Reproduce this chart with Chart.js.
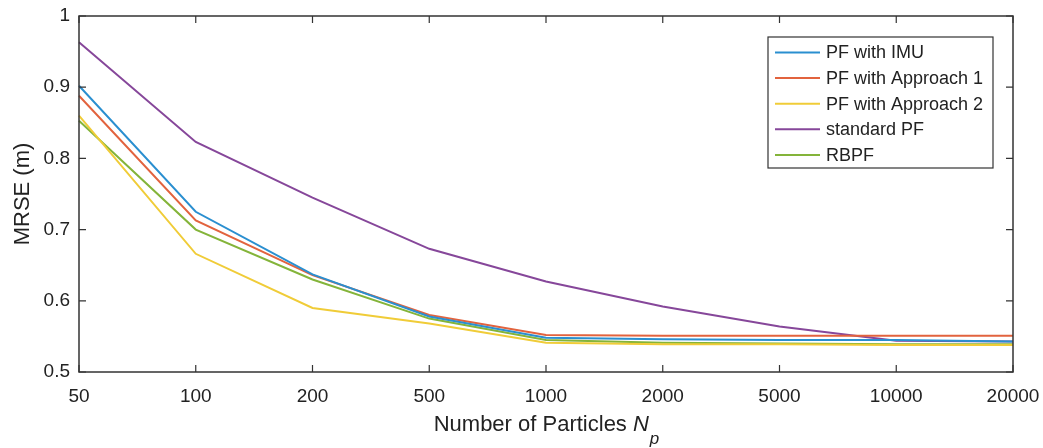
<!DOCTYPE html>
<html>
<head>
<meta charset="utf-8">
<script src="https://cdn.jsdelivr.net/npm/chart.js@4"></script>
<style>
  body { margin: 0; background: #fff; }
  #wrap { width: 1043px; height: 448px; }
</style>
</head>
<body>
<div id="wrap"><canvas id="mrse-chart"></canvas></div>
<script>
// number of particles (log-ish categories on the x axis)
var particles = ['50', '100', '200', '500', '1000', '2000', '5000', '10000', '20000'];

var pfImu       = [0.902, 0.725, 0.637, 0.578, 0.548, 0.546, 0.545, 0.545, 0.543];
var pfApproach1 = [0.888, 0.713, 0.636, 0.580, 0.552, 0.551, 0.551, 0.551, 0.551];
var pfApproach2 = [0.860, 0.666, 0.590, 0.568, 0.541, 0.539, 0.539, 0.538, 0.538];
var standardPf  = [0.963, 0.823, 0.745, 0.673, 0.627, 0.592, 0.564, 0.544, 0.543];
var rbpf        = [0.853, 0.700, 0.630, 0.575, 0.545, 0.541, 0.540, 0.539, 0.539];

var yTicks = [0.5, 0.6, 0.7, 0.8, 0.9, 1];

var FONT = '"Liberation Sans", Arial, sans-serif';
var AXIS_COLOR = '#333333';

function ds(label, data, color) {
    return {
        label: label,
        data: data,
        borderColor: color,
        backgroundColor: color,
        borderWidth: 2,
        pointRadius: 0,
        tension: 0,
        fill: false
    };
}

// box, inward ticks, x title with subscript, legend
var matlabLook = {
    id: 'matlabLook',
    afterDraw: function (chart) {
        var c = chart.ctx;
        var a = chart.chartArea;
        var xs = chart.scales.x, ys = chart.scales.y;
        c.save();
        c.strokeStyle = AXIS_COLOR;
        c.lineWidth = 1.5;
        c.strokeRect(a.left, a.top, a.right - a.left, a.bottom - a.top);
        c.lineWidth = 1.2;
        c.beginPath();
        for (var i = 0; i < particles.length; i++) {
            var px = xs.getPixelForValue(i);
            c.moveTo(px, a.bottom); c.lineTo(px, a.bottom - 7);
            c.moveTo(px, a.top); c.lineTo(px, a.top + 7);
        }
        yTicks.forEach(function (v) {
            var py = ys.getPixelForValue(v);
            c.moveTo(a.left, py); c.lineTo(a.left + 7, py);
            c.moveTo(a.right, py); c.lineTo(a.right - 7, py);
        });
        c.stroke();

        // x axis title: Number of Particles N_p
        c.fillStyle = '#222';
        c.textBaseline = 'middle';
        var main = 'Number of Particles ';
        c.font = '22px ' + FONT;
        var w1 = c.measureText(main).width;
        c.font = 'italic 22px ' + FONT;
        var w2 = c.measureText('N').width;
        c.font = 'italic 17px ' + FONT;
        var w3 = c.measureText('p').width;
        var cx = (a.left + a.right) / 2;
        var x0 = cx - (w1 + w2 + w3) / 2;
        c.font = '22px ' + FONT;
        c.fillText(main, x0, 425);
        c.font = 'italic 22px ' + FONT;
        c.fillText('N', x0 + w1, 425);
        c.font = 'italic 17px ' + FONT;
        c.fillText('p', x0 + w1 + w2 + 1, 439);

        // legend
        var bx = 768, by = 37, bw = 225, bh = 131;
        c.fillStyle = '#fff';
        c.fillRect(bx, by, bw, bh);
        c.strokeStyle = AXIS_COLOR;
        c.lineWidth = 1.2;
        c.strokeRect(bx, by, bw, bh);
        c.font = '18px ' + FONT;
        c.textBaseline = 'middle';
        chart.data.datasets.forEach(function (d, k) {
            var ly = 52.5 + k * 25.6;
            c.strokeStyle = d.borderColor;
            c.lineWidth = 2;
            c.beginPath();
            c.moveTo(775, ly); c.lineTo(820, ly);
            c.stroke();
            c.fillStyle = '#222';
            c.fillText(d.label, 826, ly + 1);
        });
        c.restore();
    }
};

var ctx = document.getElementById('mrse-chart').getContext('2d');
var myChart = new Chart(ctx, {
    type: 'line',
    data: {
        labels: particles,
        datasets: [
            ds('PF with IMU', pfImu, '#2a8fd0'),
            ds('PF with Approach 1', pfApproach1, '#e2633e'),
            ds('PF with Approach 2', pfApproach2, '#f0cc38'),
            ds('standard PF', standardPf, '#86479a'),
            ds('RBPF', rbpf, '#84b43a')
        ]
    },
    options: {
        responsive: true,
        maintainAspectRatio: false,
        animation: false,
        layout: { padding: { top: 16, right: 30, left: 0, bottom: 0 } },
        plugins: {
            legend: { display: false },
            tooltip: { enabled: false }
        },
        scales: {
            x: {
                offset: false,
                grid: { display: false, drawTicks: false },
                border: { display: false },
                ticks: {
                    color: '#222',
                    font: { family: FONT, size: 19 },
                    padding: 13,
                    maxRotation: 0,
                    autoSkip: false
                },
                afterFit: function (s) {
                    s.height = 76;
                    s.paddingLeft = 0;
                    s.paddingRight = 0;
                }
            },
            y: {
                min: 0.5,
                max: 1,
                grid: { display: false, drawTicks: false },
                border: { display: false },
                afterBuildTicks: function (s) {
                    s.ticks = yTicks.map(function (v) { return { value: v }; });
                },
                ticks: {
                    color: '#222',
                    font: { family: FONT, size: 19 },
                    padding: 9,
                    callback: function (v) { return String(Math.round(v * 10) / 10); }
                },
                title: {
                    display: true,
                    text: 'MRSE (m)',
                    color: '#222',
                    font: { family: FONT, size: 22 },
                    padding: { top: 10, bottom: 0 }
                },
                afterFit: function (s) {
                    s.width = 79;
                    s.paddingTop = 0;
                    s.paddingBottom = 0;
                }
            }
        }
    },
    plugins: [matlabLook]
});
</script>
</body>
</html>
